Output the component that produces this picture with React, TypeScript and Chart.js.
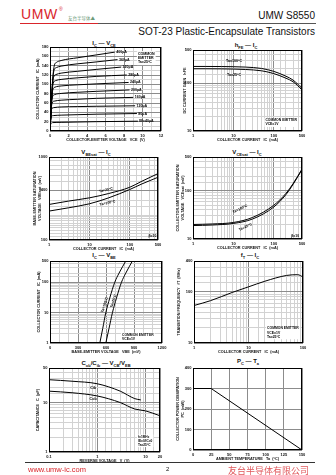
import React, { useEffect, useRef } from "react";
import { Chart, registerables } from "chart.js";
Chart.register(...registerables);

const FONT = "'Liberation Sans', Arial, Helvetica, sans-serif";
Chart.defaults.font.family = FONT;

// ---------- Chart 1 : IC - VCE ----------
const ibLabels = ["IB=40µA", "80µA", "120µA", "160µA", "200µA", "240µA", "280µA", "320µA", "360µA", "400µA"];
const vce40 = [0, 0.05, 0.1, 0.3, 1.2, 3, 5, 9.5];
const ic40 = [0, 12, 16, 18, 18.5, 19.2, 20, 21];
const vce80 = [0, 0.08, 0.14, 0.35, 1.2, 3, 5, 9.4];
const ic80 = [0, 24, 31, 33, 34, 35, 36, 37.4];
const vce120 = [0, 0.1, 0.18, 0.4, 1.2, 3, 5, 9.2];
const ic120 = [0, 35, 47, 50, 51.5, 52.3, 53, 54];
const vce160 = [0, 0.13, 0.22, 0.45, 1.2, 3, 5, 9.0];
const ic160 = [0, 45, 60, 64, 66, 68, 70, 72];
const vce200 = [0, 0.15, 0.26, 0.5, 1.2, 3, 5, 8.6];
const ic200 = [0, 55, 73, 78, 80.5, 83, 85, 88];
const vce240 = [0, 0.18, 0.3, 0.55, 1.2, 3, 5, 8.5];
const ic240 = [0, 65, 88, 94, 96.5, 99, 101, 104];
const vce280 = [0, 0.2, 0.34, 0.6, 1.2, 3, 5, 8.3];
const ic280 = [0, 75, 102, 108, 110.5, 114, 117, 120];
const vce320 = [0, 0.22, 0.38, 0.65, 1.2, 3, 5, 7.7];
const ic320 = [0, 85, 115, 121, 124, 128, 132, 137];
const vce360 = [0, 0.25, 0.42, 0.7, 1.2, 3, 5, 7.3];
const ic360 = [0, 95, 129, 136, 139, 144, 148, 153];
const vce400 = [0, 0.25, 0.45, 0.7, 1.2, 3, 5, 7.0];
const ic400 = [0, 100, 139, 147, 151, 157, 163, 169];
const c1Curves: [number[], number[]][] = [
  [vce40, ic40], [vce80, ic80], [vce120, ic120], [vce160, ic160], [vce200, ic200],
  [vce240, ic240], [vce280, ic280], [vce320, ic320], [vce360, ic360], [vce400, ic400],
];
const c1XLabels = [0, 2, 4, 6, 8, 10, 12];
const c1YLabels = [0, 20, 40, 60, 80, 100, 120, 140, 160, 180];

// ---------- Chart 2 : hFE - IC ----------
const ic2 = [1, 2, 5, 10, 20, 50, 100, 200, 300, 500];
const hfe100 = [226, 226, 225, 223, 219, 205, 178, 141, 117, 79];
const hfe25 = [202, 202, 201, 199, 195, 183, 160, 128, 108, 73];
const c2XLabels = [1, 10, 100, 500];
const c2YLabels = [10, 100, 500];

// ---------- Chart 3 : VBEsat - IC ----------
const ic3 = [1, 3, 10, 30, 100, 200, 500];
const vbeSat25 = [268, 294, 322, 363, 432, 511, 631];
const vbeSat100 = [223, 244, 273, 322, 406, 474, 570];
const c3XLabels = [1, 10, 100, 500];
const c3YLabels = [100, 400, 1000];

// ---------- Chart 4 : VCEsat - IC ----------
const ic4 = [1, 3, 10, 30, 100, 200, 300, 500];
const vceSat100 = [20, 20.5, 22, 28, 50, 88, 140, 280];
const vceSat25 = [19, 19.5, 21, 26, 46, 83, 135, 274];
const c4XLabels = [1, 10, 100, 500];
const c4YLabels = [10, 100, 500];

// ---------- Chart 5 : IC - VBE ----------
const ic5 = [1, 3, 10, 30, 100, 200, 500];
const vbe100 = [534, 565, 598, 640, 694, 740, 812];
const vbe25 = [598, 632, 669, 712, 766, 812, 883];
const c5XLabels = [0, 300, 600, 900, 1200];
const c5YLabels = [1, 10, 100, 500];

// ---------- Chart 6 : fT - IC ----------
const ic6 = [1, 2, 5, 10, 20, 50, 80, 100];
const fT = [54, 67, 97, 125, 161, 209, 216, 195];
const c6XLabels = [1, 10, 100];
const c6YLabels = [10, 100, 400];

// ---------- Chart 7 : Cob/Cib - VCB/VEB ----------
const vEB = [0.1, 0.3, 1, 3, 6, 8];
const cib = [29, 27, 24, 17, 12, 11.3];
const vCB = [0.1, 0.3, 1, 3, 6, 10, 20];
const cob = [17, 15.8, 13.6, 10, 7.4, 6.8, 5.4];
const c7XLabels = [0.1, 1, 10, 20];
const c7YLabels = [1, 10, 50];

// ---------- Chart 8 : PC - Ta ----------
const ta = [0, 25, 150];
const pc = [300, 300, 0];
const c8XLabels = [0, 25, 50, 75, 100, 125, 150];
const c8YLabels = [0, 100, 200, 300, 400];

// ---------------------------------------------------------------
type Note = { x: number; y: number; text: string | string[]; align?: "left" | "center" | "right"; rot?: number; box?: boolean; top?: boolean; size?: number };
type AxisSpec = { type: "linear" | "logarithmic"; min: number; max: number; step?: number; labels: number[]; major?: number[]; title: string | string[] };
type Spec = { col: 0 | 1; plot: [number, number, number, number]; yTitleX: number; x: AxisSpec; y: AxisSpec; series: { xs: number[]; ys: number[]; tension?: number }[]; notes: Note[] };

const XH = 13;
const MAJOR = "#8c8c8c";
const MINOR = "#d2d2d2";
const near = (v: number, list: number[]) => list.some((l) => Math.abs(v - l) <= Math.abs(l) * 1e-6 + 1e-9);
const pts = (xs: number[], ys: number[]) => xs.map((x, i) => ({ x, y: ys[i] }));

function notesPlugin(items: Note[]) {
  return {
    id: "notes",
    afterDatasetsDraw(chart: any) {
      const { ctx, chartArea: a, scales } = chart;
      ctx.save();
      ctx.strokeStyle = "#000";
      ctx.lineWidth = 1;
      ctx.strokeRect(Math.round(a.left) + 0.5, Math.round(a.top) + 0.5, Math.round(a.right - a.left) - 1, Math.round(a.bottom - a.top) - 1);
      for (const n of items) {
        const size = n.size ?? 3.6;
        const lines = Array.isArray(n.text) ? n.text : [n.text];
        const lh = size * 1.2;
        ctx.font = `bold ${size}px ${FONT}`;
        const w = Math.max(...lines.map((l) => ctx.measureText(l).width));
        const h = lh * lines.length;
        const px = scales.x.getPixelForValue(n.x);
        const py = scales.y.getPixelForValue(n.y);
        ctx.save();
        ctx.translate(px, py);
        if (n.rot) ctx.rotate((n.rot * Math.PI) / 180);
        const align = n.align ?? "left";
        const x0 = align === "left" ? 0 : align === "center" ? -w / 2 : -w;
        const y0 = n.top ? 0 : -h / 2;
        if (n.box) {
          ctx.fillStyle = "#fff";
          ctx.fillRect(x0 - 1, y0 - 0.5, w + 2, h + 1);
        }
        ctx.fillStyle = "#000";
        ctx.textBaseline = "middle";
        ctx.textAlign = "left";
        lines.forEach((l, i) => ctx.fillText(l, x0, y0 + lh * (i + 0.5)));
        ctx.restore();
      }
      ctx.restore();
    },
  };
}

function axis(a: AxisSpec, horizontal: boolean, size: number, titlePad: number) {
  const major = a.major ?? a.labels;
  const titleFont = { size: 3.8, weight: "bold" as const, lineHeight: 1.2 };
  return {
    type: a.type,
    min: a.min,
    max: a.max,
    ticks: {
      autoSkip: false,
      maxRotation: 0,
      minRotation: 0,
      padding: horizontal ? 2 : 1.5,
      stepSize: a.step,
      color: "#111",
      font: { size: 4, weight: "bold" as const },
      callback: (v: any) => (near(Number(v), a.labels) ? String(Number(v)) : ""),
    },
    grid: {
      drawTicks: false,
      lineWidth: 1,
      color: (c: any) => (c.tick && near(c.tick.value, major) ? MAJOR : MINOR),
    },
    border: { display: false },
    title: {
      display: true,
      text: a.title,
      color: "#111",
      font: titleFont,
      padding: horizontal ? { top: 0, bottom: titlePad } : { top: titlePad, bottom: 0 },
    },
    afterFit: (s: any) => {
      if (horizontal) {
        s.height = size;
        s.paddingLeft = 0;
        s.paddingRight = 0;
      } else {
        s.width = size;
        s.paddingTop = 0;
        s.paddingBottom = 0;
      }
    },
  };
}

function ChartBox({ spec }: { spec: Spec }) {
  const ref = useRef<HTMLCanvasElement | null>(null);
  const [L, T, R, B] = spec.plot;
  const left = spec.col === 0 ? 22 : 168;
  const top = T - 5;
  const width = R + 9 - left;
  const height = B + XH - top;
  useEffect(() => {
    const yW = L - left;
    const lh = 3.8 * 1.2;
    const chart = new Chart(ref.current as HTMLCanvasElement, {
      type: "line",
      data: {
        datasets: spec.series.map((s) => ({
          data: pts(s.xs, s.ys),
          borderColor: "#000",
          borderWidth: 1,
          pointRadius: 0,
          fill: false,
          tension: s.tension ?? 0,
          cubicInterpolationMode: s.tension === 0 ? "default" : "monotone",
        })) as any,
      },
      options: {
        animation: false,
        responsive: false,
        devicePixelRatio: 1,
        layout: { autoPadding: false, padding: { left: 0, top: 5, right: 9, bottom: 0 } },
        plugins: { legend: { display: false }, tooltip: { enabled: false }, title: { display: false } },
        scales: {
          x: axis(spec.x, true, XH, XH - 8.5 - lh / 2) as any,
          y: axis(spec.y, false, yW, spec.yTitleX - left - lh / 2) as any,
        },
      },
      plugins: [notesPlugin(spec.notes)],
    });
    return () => chart.destroy();
  }, []);
  return <canvas ref={ref} width={width} height={height} style={{ position: "absolute", left, top, width, height }} />;
}

const specs: Spec[] = [
  {
    col: 0, plot: [50, 47, 161, 131], yTitleX: 38,
    x: { type: "linear", min: 0, max: 12, step: 1, labels: c1XLabels, title: "COLLECTOR-EMITTER VOLTAGE   VCE  (V)" },
    y: { type: "linear", min: 0, max: 180, step: 10, labels: c1YLabels, title: "COLLECTOR CURRENT   IC  (mA)" },
    series: c1Curves.map(([xs, ys]) => ({ xs, ys })),
    notes: [
      ...c1Curves.map(([xs, ys], i) => ({ x: xs[xs.length - 1] + 0.15, y: ys[ys.length - 1], text: ibLabels[i], align: "left" as const })),
      { x: 9.5, y: 170, text: ["COMMON", "EMITTER", "Ta=25°C"], top: true, box: true },
    ],
  },
  {
    col: 1, plot: [193, 50, 302, 131], yTitleX: 185,
    x: { type: "logarithmic", min: 1, max: 500, labels: c2XLabels, title: "COLLECTOR CURRENT   IC  (mA)" },
    y: { type: "logarithmic", min: 10, max: 500, labels: c2YLabels, title: "DC CURRENT GAIN   hFE" },
    series: [{ xs: ic2, ys: hfe100 }, { xs: ic2, ys: hfe25 }],
    notes: [
      { x: 10.4, y: 290, text: "Ta=100°C", align: "center" },
      { x: 10.4, y: 150, text: "Ta=25°C", align: "center" },
      { x: 62, y: 18.5, text: ["COMMON EMITTER", "VCE=1V"], top: true, box: true, size: 3.4 },
    ],
  },
  {
    col: 0, plot: [49, 157, 158, 240], yTitleX: 35,
    x: { type: "logarithmic", min: 1, max: 500, labels: c3XLabels, title: "COLLECTOR CURRENT   IC  (mA)" },
    y: { type: "logarithmic", min: 100, max: 1000, labels: c3YLabels, title: ["BASE-EMITTER SATURATION", "VOLTAGE   VBEsat  (mV)"] },
    series: [{ xs: ic3, ys: vbeSat25 }, { xs: ic3, ys: vbeSat100 }],
    notes: [
      { x: 25.7, y: 400, text: "Ta=25°C", align: "center", rot: -12 },
      { x: 28, y: 279, text: "Ta=100°C", align: "center", rot: -12 },
      { x: 290, y: 112, text: "β=10", align: "left", size: 3.4 },
    ],
  },
  {
    col: 1, plot: [193, 157, 302, 239], yTitleX: 178,
    x: { type: "logarithmic", min: 1, max: 500, labels: c4XLabels, title: "COLLECTOR CURRENT   IC  (mA)" },
    y: { type: "logarithmic", min: 10, max: 500, labels: c4YLabels, title: ["COLLECTOR-EMITTER SATURATION", "VOLTAGE   VCEsat  (mV)"] },
    series: [{ xs: ic4, ys: vceSat100 }, { xs: ic4, ys: vceSat25 }],
    notes: [
      { x: 14.6, y: 42, text: "Ta=100°C", align: "center", rot: -25 },
      { x: 20, y: 17.7, text: "Ta=25°C", align: "center", rot: -25 },
      { x: 270, y: 11.5, text: "β=10", align: "left", size: 3.4 },
    ],
  },
  {
    col: 0, plot: [50, 261, 162, 343], yTitleX: 39,
    x: { type: "linear", min: 0, max: 1200, step: 100, labels: c5XLabels, title: "BASE-EMITTER VOLTAGE   VBE  (mV)" },
    y: { type: "logarithmic", min: 1, max: 500, labels: c5YLabels, title: "COLLECTOR CURRENT   IC  (mA)" },
    series: [{ xs: vbe100, ys: ic5 }, { xs: vbe25, ys: ic5 }],
    notes: [
      { x: 585, y: 18, text: "Ta=100°C", align: "center", rot: -72 },
      { x: 680, y: 24, text: "Ta=25°C", align: "center", rot: -72 },
      { x: 771, y: 2.1, text: ["COMMON EMITTER", "VCE=1V"], top: true, box: true, size: 3.4 },
    ],
  },
  {
    col: 1, plot: [194, 261, 303, 343], yTitleX: 179,
    x: { type: "logarithmic", min: 1, max: 100, labels: c6XLabels, title: "COLLECTOR CURRENT   IC  (mA)" },
    y: { type: "logarithmic", min: 10, max: 400, labels: c6YLabels, title: "TRANSITION FREQUENCY   fT  (MHz)" },
    series: [{ xs: ic6, ys: fT }],
    notes: [{ x: 21.9, y: 21, text: ["COMMON EMITTER", "VCE=1V", "Ta=25°C"], top: true, box: true, size: 3.4 }],
  },
  {
    col: 0, plot: [49, 368, 160, 452], yTitleX: 38,
    x: { type: "logarithmic", min: 0.1, max: 20, labels: c7XLabels, title: "REVERSE VOLTAGE   V  (V)" },
    y: { type: "logarithmic", min: 1, max: 50, labels: c7YLabels, title: "CAPACITANCE   C  (pF)" },
    series: [{ xs: vEB, ys: cib }, { xs: vCB, ys: cob }],
    notes: [
      { x: 0.82, y: 19.7, text: "Cib", align: "center" },
      { x: 0.82, y: 11.8, text: "Cob", align: "center" },
      { x: 7, y: 2.2, text: ["f=1MHz", "IE=0/IC=0", "Ta=25°C"], top: true, box: true, size: 3.2 },
    ],
  },
  {
    col: 1, plot: [193, 368, 302, 450], yTitleX: 178,
    x: { type: "linear", min: 0, max: 150, step: 25, labels: c8XLabels, major: c8XLabels, title: "AMBIENT TEMPERATURE   Ta  (°C)" },
    y: { type: "linear", min: 0, max: 400, step: 100, labels: c8YLabels, major: c8YLabels, title: ["COLLECTOR POWER DISSIPATION", "PC  (mW)"] },
    series: [{ xs: ta, ys: pc, tension: 0 }],
    notes: [],
  },
];

const sub = (t: string) => <span style={{ fontSize: 4, verticalAlign: -1.5 }}>{t}</span>;
const titles: { x: number; y: number; node: React.ReactNode }[] = [
  { x: 104, y: 39, node: <>I{sub("C")} — V{sub("CE")}</> },
  { x: 246, y: 41, node: <>h{sub("FE")} — I{sub("C")}</> },
  { x: 96, y: 148, node: <>V{sub("BEsat")} — I{sub("C")}</> },
  { x: 247, y: 148, node: <>V{sub("CEsat")} — I{sub("C")}</> },
  { x: 104, y: 251, node: <>I{sub("C")} — V{sub("BE")}</> },
  { x: 250, y: 251, node: <>f{sub("T")} — I{sub("C")}</> },
  { x: 106, y: 359, node: <>C{sub("ob")}/C{sub("ib")} — V{sub("CB")}/V{sub("EB")}</> },
  { x: 248, y: 357, node: <>P{sub("C")} — T{sub("a")}</> },
];

export default function App() {
  return (
    <div style={{ position: "absolute", left: 0, top: 0, width: 336, height: 475, background: "#fff", overflow: "hidden", fontFamily: FONT }}>
      {/* header */}
      <div style={{ position: "absolute", left: 21, top: 6, fontSize: 14, color: "#d9252b", letterSpacing: 0.6, lineHeight: "16px" }}>UMW</div>
      <div style={{ position: "absolute", left: 59, top: 6, fontSize: 5, color: "#d9252b" }}>®</div>
      <div style={{ position: "absolute", left: 68, top: 15, fontSize: 4.5, color: "#6d9a78", fontFamily: "'Noto Sans CJK SC', sans-serif" }}>友台半导体▲</div>
      <div style={{ position: "absolute", right: 21, top: 10, fontSize: 10, color: "#111", lineHeight: "12px" }}>UMW S8550</div>
      <div style={{ position: "absolute", left: 20, top: 23, width: 78, height: 1, background: "#d9252b" }} />
      <div style={{ position: "absolute", left: 98, top: 23, width: 218, height: 1, background: "#555" }} />
      <div style={{ position: "absolute", right: 21, top: 26, fontSize: 10, color: "#111", lineHeight: "12px" }}>SOT-23 Plastic-Encapsulate Transistors</div>

      {titles.map((t, i) => (
        <div key={i} style={{ position: "absolute", left: t.x, top: t.y, transform: "translateX(-50%)", fontSize: 6, fontWeight: "bold", whiteSpace: "nowrap", color: "#111", lineHeight: "8px" }}>
          {t.node}
        </div>
      ))}

      {specs.map((s, i) => (
        <ChartBox key={i} spec={s} />
      ))}

      {/* footer */}
      <div style={{ position: "absolute", left: 25, top: 462, width: 290, height: 1, background: "#333" }} />
      <div style={{ position: "absolute", left: 28, top: 465, fontSize: 7.5, color: "#d9252b", lineHeight: "9px" }}>www.umw-ic.com</div>
      <div style={{ position: "absolute", left: 166, top: 465, fontSize: 6, color: "#111", lineHeight: "9px" }}>2</div>
      <div style={{ position: "absolute", left: 228, top: 465, fontSize: 9, color: "#e0585c", lineHeight: "11px", fontFamily: "'Noto Sans CJK SC', sans-serif" }}>友台半导体有限公司</div>
    </div>
  );
}
